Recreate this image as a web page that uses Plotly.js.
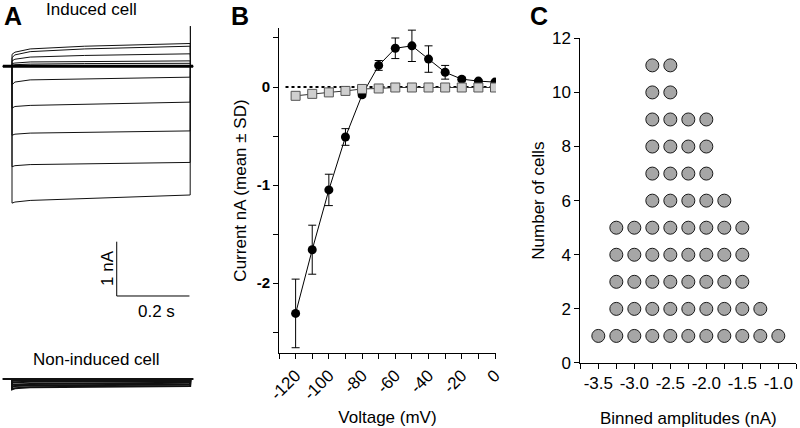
<!DOCTYPE html>
<html>
<head>
<meta charset="utf-8">
<script src="https://cdn.plot.ly/plotly-3.0.1.min.js"></script>
<style>html,body{margin:0;padding:0;background:#fff;}#chart{width:800px;height:428px;}</style>
</head>
<body>
<div id="chart"></div>
<script>
// ---------- Panel A: whole-cell current traces (nA) vs time (s) ----------
const sweepTime = [-0.025, 0, 0, 0.008, 0.05, 0.2, 0.49, 0.4905, 0.491, 0.498];
// induced cell sweeps: [pre, pre, onset, 8ms, 50ms, 200ms, end, tail, back, post]
const induced1 = [0, 0, -0.34, -0.29, -0.25, -0.23, -0.20, 0, 0, 0];
const induced2 = [0, 0, -0.77, -0.74, -0.72, -0.70, -0.66, 0, 0, 0];
const induced3 = [0, 0, -1.27, -1.25, -1.23, -1.22, -1.19, 0, 0, 0];
const induced4 = [0, 0, -1.85, -1.83, -1.81, -1.80, -1.77, 0, 0, 0];
const induced5 = [0, 0, -2.52, -2.50, -2.47, -2.44, -2.37, 0.74, 0, 0];
const induced6 = [0, 0, 0.22, 0.26, 0.32, 0.37, 0.42, 0, 0, 0];
const induced7 = [0, 0, 0.16, 0.21, 0.27, 0.32, 0.37, 0, 0, 0];
const induced8 = [0, 0, 0.10, 0.13, 0.17, 0.20, 0.23, 0, 0, 0];
const induced9 = [0, 0, 0.05, 0.06, 0.08, 0.09, 0.10, 0, 0, 0];
const induced10 = [0, 0, 0.02, 0.03, 0.04, 0.05, 0.055, 0, 0, 0];
const inducedBase = [0, 0, 0, 0, 0, 0, 0, 0, 0, 0];
// non-induced cell sweeps
const nonInduced1 = [0, 0, -0.19, -0.17, -0.15, -0.14, -0.13, 0, 0, 0];
const nonInduced2 = [0, 0, -0.15, -0.13, -0.12, -0.11, -0.10, 0, 0, 0];
const nonInduced3 = [0, 0, -0.11, -0.10, -0.09, -0.08, -0.07, 0, 0, 0];
const nonInduced4 = [0, 0, -0.07, -0.06, -0.05, -0.05, -0.04, 0, 0, 0];
const nonInduced5 = [0, 0, -0.04, -0.03, -0.03, -0.02, -0.02, 0, 0, 0];
const nonInduced6 = [0, 0, 0.01, 0.01, 0.01, 0.01, 0.01, 0, 0, 0];
const scaleBarTime = 0.2;   // s
const scaleBarCurrent = 1;  // nA

// ---------- Panel B: I-V relation ----------
const voltage = [-120, -110, -100, -90, -80, -70, -60, -50, -40, -30, -20, -10, 0];
const inducedMean = [-2.31, -1.66, -1.05, -0.51, -0.08, 0.22, 0.395, 0.42, 0.285, 0.15, 0.08, 0.06, 0.05];
const inducedSD = [0.35, 0.25, 0.16, 0.085, 0.02, 0.05, 0.105, 0.16, 0.135, 0.07, 0.02, 0.01, 0.01];
const nonInducedMean = [-0.09, -0.07, -0.055, -0.04, -0.02, -0.015, -0.005, -0.005, -0.005, -0.005, -0.005, -0.005, -0.005];
const voltageTicks = [-120, -100, -80, -60, -40, -20, 0];
const voltageTickText = ['-120', '-100', '-80', '-60', '-40', '-20', '0'];
const currentTicks = [-2, -1, 0];
const currentTickText = ['<b>-2</b>', '<b>-1</b>', '<b>0</b>'];

// ---------- Panel C: dot histogram ----------
const ampBins = [-3.5, -3.25, -3.0, -2.75, -2.5, -2.25, -2.0, -1.75, -1.5, -1.25, -1.0];
const cellCounts = [1, 5, 5, 11, 11, 9, 9, 6, 5, 2, 1];
const ampTicks = [-3.5, -3.0, -2.5, -2.0, -1.5, -1.0];
const ampTickText = ['-3.5', '-3.0', '-2.5', '-2.0', '-1.5', '-1.0'];

const FONT = 'Liberation Sans, Arial, sans-serif';
const traces = [];

const inducedSweeps = [induced1, induced2, induced3, induced4, induced5, induced6, induced7, induced8, induced9, induced10];
inducedSweeps.forEach(v => traces.push({
  x: sweepTime, y: v, xaxis: 'x', yaxis: 'y', mode: 'lines',
  line: {color: '#111', width: 1}, hoverinfo: 'skip'
}));
traces.push({x: sweepTime, y: inducedBase, xaxis: 'x', yaxis: 'y', mode: 'lines',
  line: {color: '#000', width: 3}, hoverinfo: 'skip'});

const nonSweeps = [nonInduced1, nonInduced2, nonInduced3, nonInduced4, nonInduced5, nonInduced6];
nonSweeps.forEach(v => traces.push({
  x: sweepTime, y: v, xaxis: 'x', yaxis: 'y2', mode: 'lines',
  line: {color: '#111', width: 2}, hoverinfo: 'skip'
}));

// Panel B
traces.push({
  x: voltage, y: inducedMean, xaxis: 'x2', yaxis: 'y3', mode: 'lines+markers',
  line: {color: '#000', width: 1},
  marker: {symbol: 'circle', size: 9, color: '#000'},
  error_y: {type: 'data', array: inducedSD, visible: true, color: '#000', thickness: 1, width: 4}
});
traces.push({
  x: voltage, y: nonInducedMean, xaxis: 'x2', yaxis: 'y3', mode: 'lines+markers',
  line: {color: '#333', width: 1},
  marker: {symbol: 'square', size: 9, color: '#cfcfcf', line: {color: '#555', width: 1}}
});

// Panel C
const dotX = [], dotY = [];
ampBins.forEach((b, i) => { for (let k = 1; k <= cellCounts[i]; k++) { dotX.push(b); dotY.push(k); } });
traces.push({
  x: dotX, y: dotY, xaxis: 'x3', yaxis: 'y4', mode: 'markers',
  marker: {symbol: 'circle', size: 13, color: '#a6a6a6', line: {color: '#1a1a1a', width: 1}}
});

const layout = {
  width: 800, height: 428,
  margin: {l: 0, r: 0, t: 0, b: 0},
  paper_bgcolor: '#fff', plot_bgcolor: 'rgba(0,0,0,0)',
  showlegend: false,
  font: {family: FONT, color: '#000', size: 17},
  // Panel A
  xaxis: {domain: [0, 0.25], range: [-0.033, 0.517], visible: false, fixedrange: true},
  yaxis: {domain: [0.2757, 0.9533], range: [-4.488, 0.853], visible: false, anchor: 'x'},
  yaxis2: {domain: [0.0187, 0.2056], range: [-0.755, 0.718], visible: false, anchor: 'x'},
  // Panel B
  xaxis2: {
    domain: [0.34875, 0.62], range: [-130, 0.6], anchor: 'y3',
    showline: true, linecolor: '#000', linewidth: 1, zeroline: false, showgrid: false,
    ticks: 'outside', ticklen: 5, tickcolor: '#000',
    tickmode: 'array', tickvals: voltageTicks, ticktext: voltageTickText, tickangle: -45,
    tickfont: {size: 17, family: FONT},
    minor: {dtick: 10, tick0: 0, ticks: 'outside', ticklen: 5, tickcolor: '#000', showgrid: false},
    title: {text: 'Voltage (mV)', font: {size: 17, family: FONT}, standoff: 8}
  },
  yaxis3: {
    domain: [0.1752, 0.9346], range: [-2.714, 0.602], anchor: 'x2',
    showline: true, linecolor: '#000', linewidth: 1, zeroline: false, showgrid: false,
    ticks: 'outside', ticklen: 5, tickcolor: '#000',
    tickmode: 'array', tickvals: currentTicks, ticktext: currentTickText,
    tickfont: {size: 15, family: FONT},
    minor: {dtick: 0.5, tick0: 0, ticks: 'outside', ticklen: 5, tickcolor: '#000', showgrid: false},
    title: {text: 'Current nA (mean ± SD)', font: {size: 17, family: FONT}, standoff: 5}
  },
  // Panel C
  xaxis3: {
    domain: [0.7254, 0.9954], range: [-3.75, -0.75], anchor: 'y4',
    showline: true, linecolor: '#000', linewidth: 1, zeroline: false, showgrid: false,
    ticks: 'outside', ticklen: 5, tickcolor: '#000',
    tickmode: 'array', tickvals: ampTicks, ticktext: ampTickText,
    tickfont: {size: 17, family: FONT},
    minor: {dtick: 0.25, tick0: -3.5, ticks: 'outside', ticklen: 5, tickcolor: '#000', showgrid: false},
    title: {text: 'Binned amplitudes (nA)', font: {size: 17, family: FONT}, standoff: 30}
  },
  yaxis4: {
    domain: [0.1519, 0.9105], range: [0, 12], anchor: 'x3',
    showline: true, linecolor: '#000', linewidth: 1, zeroline: false, showgrid: false,
    ticks: 'outside', ticklen: 5, tickcolor: '#000', dtick: 2, tick0: 0,
    tickfont: {size: 17, family: FONT},
    title: {text: 'Number of cells', font: {size: 17, family: FONT}, standoff: 3}
  },
  shapes: [
    // dotted zero reference in B
    {type: 'line', xref: 'x2 domain', yref: 'y3', x0: 0.03, x1: 1, y0: 0, y1: 0,
     line: {color: '#000', width: 2, dash: 'dot'}, layer: 'below'},
    // scale bar in A
    {type: 'line', xref: 'x', yref: 'y', x0: 0.288, x1: 0.288, y0: -3.23, y1: -3.23 - scaleBarCurrent,
     line: {color: '#000', width: 1}},
    {type: 'line', xref: 'x', yref: 'y', x0: 0.288, x1: 0.288 + scaleBarTime, y0: -3.23 - scaleBarCurrent, y1: -3.23 - scaleBarCurrent,
     line: {color: '#000', width: 1}}
  ],
  annotations: [
    {text: '<b>A</b>', xref: 'paper', yref: 'paper', x: 13/800, y: 1 - 16/428, showarrow: false, font: {size: 25, family: FONT}, xanchor: 'center', yanchor: 'middle'},
    {text: '<b>B</b>', xref: 'paper', yref: 'paper', x: 240/800, y: 1 - 16/428, showarrow: false, font: {size: 25, family: FONT}, xanchor: 'center', yanchor: 'middle'},
    {text: '<b>C</b>', xref: 'paper', yref: 'paper', x: 539/800, y: 1 - 16/428, showarrow: false, font: {size: 25, family: FONT}, xanchor: 'center', yanchor: 'middle'},
    {text: 'Induced cell', xref: 'paper', yref: 'paper', x: 91/800, y: 1 - 10/428, showarrow: false, font: {size: 17, family: FONT}, xanchor: 'center', yanchor: 'middle'},
    {text: 'Non-induced cell', xref: 'paper', yref: 'paper', x: 96/800, y: 1 - 359/428, showarrow: false, font: {size: 17, family: FONT}, xanchor: 'center', yanchor: 'middle'},
    {text: '1 nA', xref: 'paper', yref: 'paper', x: 107/800, y: 1 - 268/428, showarrow: false, textangle: -90, font: {size: 17, family: FONT}, xanchor: 'center', yanchor: 'middle'},
    {text: '0.2 s', xref: 'paper', yref: 'paper', x: 156/800, y: 1 - 311/428, showarrow: false, font: {size: 17, family: FONT}, xanchor: 'center', yanchor: 'middle'}
  ]
};

Plotly.newPlot('chart', traces, layout, {staticPlot: true, displayModeBar: false});
</script>
</body>
</html>
